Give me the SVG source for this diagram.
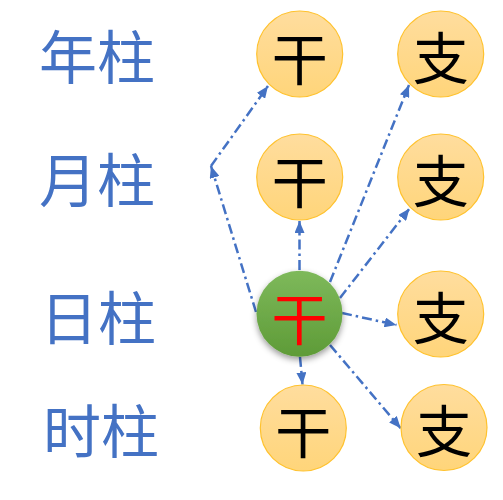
<svg xmlns="http://www.w3.org/2000/svg" width="503" height="500" viewBox="0 0 503 500">
<style>
.lbl{font-family:"Noto Sans CJK SC","Noto Sans CJK JP",sans-serif;font-size:58px;fill:#4472C4;text-anchor:end}
.ct{font-family:"Noto Sans CJK SC","Noto Sans CJK JP",sans-serif;font-size:56px;font-weight:400;fill:#000;text-anchor:middle}
.org{fill:url(#og);stroke:#FFC22E;stroke-width:1.2}
.con{fill:none;stroke:#4472C4;stroke-width:2.5;stroke-dasharray:10 4 2.5 4;marker-end:url(#ah)}
</style>
<defs>
<linearGradient id="og" x1="0" y1="0" x2="0" y2="1">
<stop offset="0" stop-color="#FFDD9E"/>
<stop offset="1" stop-color="#FFD57A"/>
</linearGradient>
<linearGradient id="gg" x1="0" y1="0" x2="0" y2="1">
<stop offset="0" stop-color="#7EB95B"/>
<stop offset="1" stop-color="#5E9B37"/>
</linearGradient>
<filter id="sh" x="-30%" y="-30%" width="160%" height="160%">
<feDropShadow dx="0" dy="3" stdDeviation="3" flood-color="#000" flood-opacity="0.4"/>
</filter>
<marker id="ah" markerUnits="userSpaceOnUse" markerWidth="12" markerHeight="10" viewBox="0 0 12 10" refX="12" refY="5" orient="auto">
<path d="M0,0 L12,5 L0,10 Z" fill="#4472C4"/>
</marker>
</defs>
<g id="labels">
<text id="lbl-year" class="lbl" x="155" y="79">年柱</text>
<text id="lbl-month" class="lbl" x="155" y="202">月柱</text>
<text id="lbl-day" class="lbl" x="156" y="340">日柱</text>
<text id="lbl-hour" class="lbl" x="159" y="453">时柱</text>
</g>
<g id="connectors">
<line class="con" x1="299.5" y1="270" x2="299.5" y2="221"/>
<line class="con" x1="330" y1="282" x2="409" y2="85"/>
<line class="con" x1="340" y1="298" x2="409.5" y2="208.5"/>
<line class="con" x1="342" y1="313" x2="396.5" y2="325"/>
<line class="con" x1="330" y1="345" x2="400.7" y2="428.3"/>
<line class="con" x1="300" y1="357" x2="302.5" y2="384.5"/>
<line class="con" x1="256" y1="312" x2="211" y2="166"/>
<line class="con" x1="211" y1="166" x2="268" y2="86"/>
</g>
<g id="year-stem"><circle class="org" cx="299.7" cy="54" r="43"/><text class="ct" x="299.7" y="80">干</text></g>
<g id="year-branch"><circle class="org" cx="440.7" cy="54" r="43"/><text class="ct" x="440.7" y="78.5">支</text></g>
<g id="month-stem"><circle class="org" cx="299.7" cy="177" r="43"/><text class="ct" x="299.7" y="203">干</text></g>
<g id="month-branch"><circle class="org" cx="440.7" cy="177" r="43"/><text class="ct" x="440.7" y="201.5">支</text></g>
<g id="day-stem"><circle cx="299.5" cy="313.7" r="43" fill="url(#gg)" filter="url(#sh)"/><text class="ct" x="299.5" y="340" style="fill:#FF0000">干</text></g>
<g id="day-branch"><circle class="org" cx="440.7" cy="314" r="43"/><text class="ct" x="440.7" y="338.5">支</text></g>
<g id="hour-stem"><circle class="org" cx="303.3" cy="428" r="43"/><text class="ct" x="303.3" y="453">干</text></g>
<g id="hour-branch"><circle class="org" cx="444" cy="427.5" r="43"/><text class="ct" x="444" y="452">支</text></g>
</svg>
